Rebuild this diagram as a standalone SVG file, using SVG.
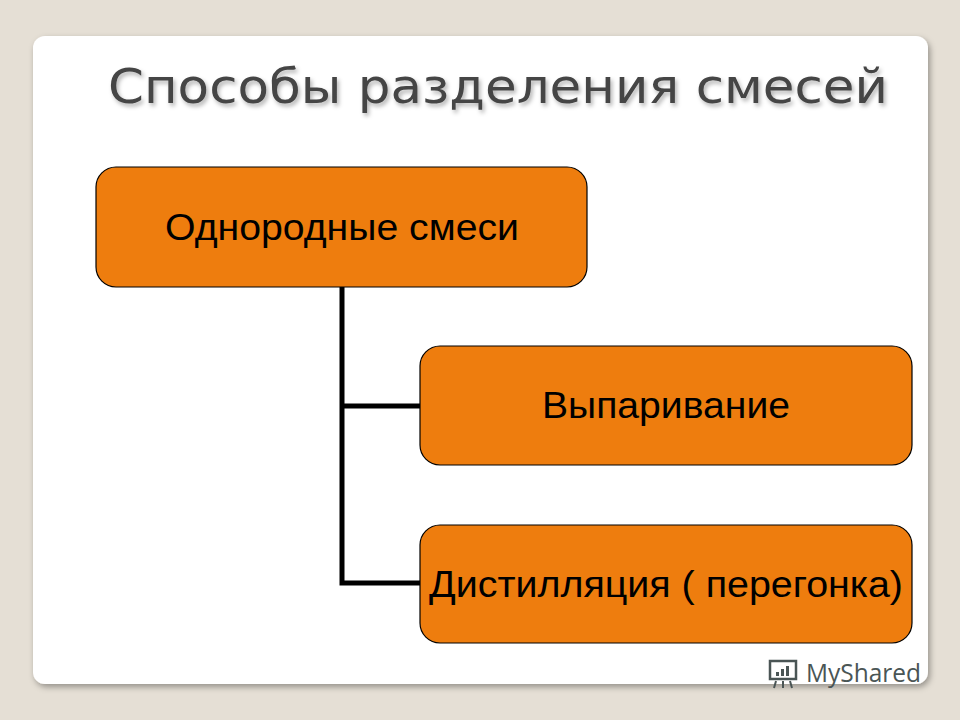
<svg xmlns="http://www.w3.org/2000/svg" width="960" height="720" viewBox="0 0 960 720">
<defs>
<style>
.box{fill:#EE7D0E;stroke:#000;stroke-width:1.2}
.lbl{font-family:"Liberation Sans",Arial,sans-serif;font-size:36px;fill:#000;text-anchor:middle}
.ttl{font-family:"DejaVu Sans","Open Sans",sans-serif;font-size:48px;fill:#444}
</style>
<filter id="sh" x="-5%" y="-5%" width="110%" height="110%"><feDropShadow dx="2" dy="3" stdDeviation="3" flood-color="#000" flood-opacity="0.35"/></filter>
<filter id="tsh"><feDropShadow dx="2" dy="3" stdDeviation="2" flood-color="#000" flood-opacity="0.3"/></filter>
</defs>
<rect width="960" height="720" fill="#E5DFD5"/>
<rect x="33" y="36" width="895" height="648" rx="12" fill="#fff" filter="url(#sh)"/>
<text class="ttl" x="108" y="103" textLength="780" lengthAdjust="spacingAndGlyphs" filter="url(#tsh)">Способы разделения смесей</text>
<g id="connectors" stroke="#000" stroke-width="5" fill="none">
<path d="M342 287 V583 H420 M342 406 H420"/>
</g>
<g id="n1"><rect class="box" x="96" y="167" width="491" height="120" rx="20"/><text class="lbl" x="342" y="240" textLength="354" lengthAdjust="spacingAndGlyphs">Однородные смеси</text></g>
<g id="n2"><rect class="box" x="420" y="346" width="492" height="119" rx="20"/><text class="lbl" x="666" y="418" textLength="248" lengthAdjust="spacingAndGlyphs">Выпаривание</text></g>
<g id="n3"><rect class="box" x="420" y="525" width="492" height="118" rx="20"/><text class="lbl" x="666" y="597" textLength="474" lengthAdjust="spacingAndGlyphs">Дистилляция ( перегонка)</text></g>
<g id="logo" fill="#4a5555">
<rect x="770" y="661" width="26" height="18" fill="none" stroke="#4a5555" stroke-width="2.5"/>
<rect x="776" y="672" width="3" height="4"/><rect x="781" y="669" width="3" height="7"/><rect x="786" y="666" width="3" height="10"/>
<path d="M776 681 l-2 7 M783 681 v7 M790 681 l2 7" stroke="#4a5555" stroke-width="2"/>
<text x="806" y="682" font-family="Open Sans,DejaVu Sans,sans-serif" font-size="25" textLength="115" lengthAdjust="spacingAndGlyphs">MyShared</text>
</g>
</svg>
